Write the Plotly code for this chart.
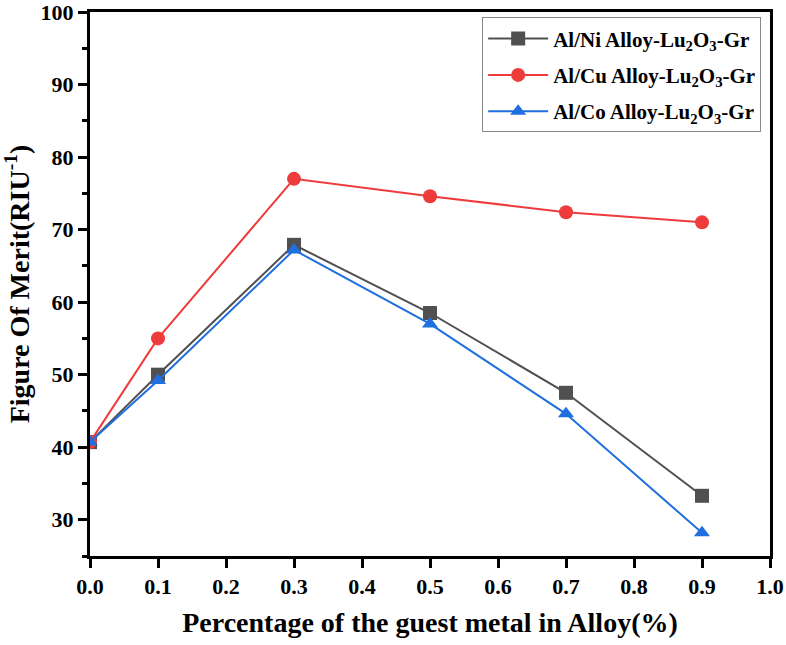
import plotly.graph_objects as go

x_vals = [0.0, 0.1, 0.3, 0.5, 0.7, 0.9]
ni_vals = [40.7, 50.0, 67.9, 58.5, 47.5, 33.3]
cu_vals = [40.7, 55.0, 77.0, 74.6, 72.4, 71.0]
co_vals = [40.7, 49.2, 67.2, 57.0, 44.6, 28.2]
x_ticks = [0.0, 0.1, 0.2, 0.3, 0.4, 0.5, 0.6, 0.7, 0.8, 0.9, 1.0]
x_labels = ["0.0", "0.1", "0.2", "0.3", "0.4", "0.5", "0.6", "0.7", "0.8", "0.9", "1.0"]
y_ticks = [30, 40, 50, 60, 70, 80, 90, 100]
y_minor = [25, 35, 45, 55, 65, 75, 85, 95]
names = ["Al/Ni Alloy-Lu<sub>2</sub>O<sub>3</sub>-Gr",
         "Al/Cu Alloy-Lu<sub>2</sub>O<sub>3</sub>-Gr",
         "Al/Co Alloy-Lu<sub>2</sub>O<sub>3</sub>-Gr"]
colors = ["#505050", "#ee3b3b", "#1f6fdf"]
symbols = ["square", "circle", "triangle-up"]

fig = go.Figure()
for i, (y, n, c, s) in enumerate(zip([ni_vals, cu_vals, co_vals], names, colors, symbols)):
    fig.add_trace(go.Scatter(x=x_vals, y=y, name=n, mode="lines+markers",
                             legendgroup=f"g{i}",
                             line=dict(color=c, width=2),
                             marker=dict(symbol=s, size=14, color=c)))

font = "Liberation Serif, Times New Roman, serif"
fig.update_layout(
    width=786, height=645,
    margin=dict(l=90, r=16, t=12, b=89, autoexpand=False),
    plot_bgcolor="white", paper_bgcolor="white",
    font=dict(family=font, color="black"),
    legend=dict(x=0.987, y=0.99, xanchor="right", yanchor="top",
                bordercolor="#888888", borderwidth=1, bgcolor="white",
                itemwidth=60, tracegroupgap=6,
                font=dict(family=font, size=21, color="black", weight="bold")),
    xaxis=dict(range=[0, 1.0], tickvals=x_ticks, ticktext=x_labels,
               showgrid=False, zeroline=False,
               showline=True, linecolor="black", linewidth=3, mirror=True,
               ticks="outside", ticklen=9, tickwidth=3, tickcolor="black",
               ticklabeloverflow="allow",
               tickfont=dict(family=font, size=22, color="black", weight="bold"),
               title=dict(text="Percentage of the guest metal in Alloy(%)",
                          font=dict(family=font, size=28, color="black", weight="bold"),
                          standoff=14)),
    yaxis=dict(range=[25, 100], tickvals=y_ticks,
               showgrid=False, zeroline=False,
               showline=True, linecolor="black", linewidth=3, mirror=True,
               ticks="outside", ticklen=9, tickwidth=3, tickcolor="black",
               ticklabeloverflow="allow",
               minor=dict(tickvals=y_minor, ticks="outside",
                          ticklen=5, tickwidth=3, tickcolor="black"),
               tickfont=dict(family=font, size=22, color="black", weight="bold"),
               title=dict(text="Figure Of Merit(RIU<sup>-1</sup>)",
                          font=dict(family=font, size=28, color="black", weight="bold"),
                          standoff=6)),
)
fig.write_html("out.html", config={"displayModeBar": False},
               post_script="document.body.style.margin='0';document.body.style.overflow='hidden';")
